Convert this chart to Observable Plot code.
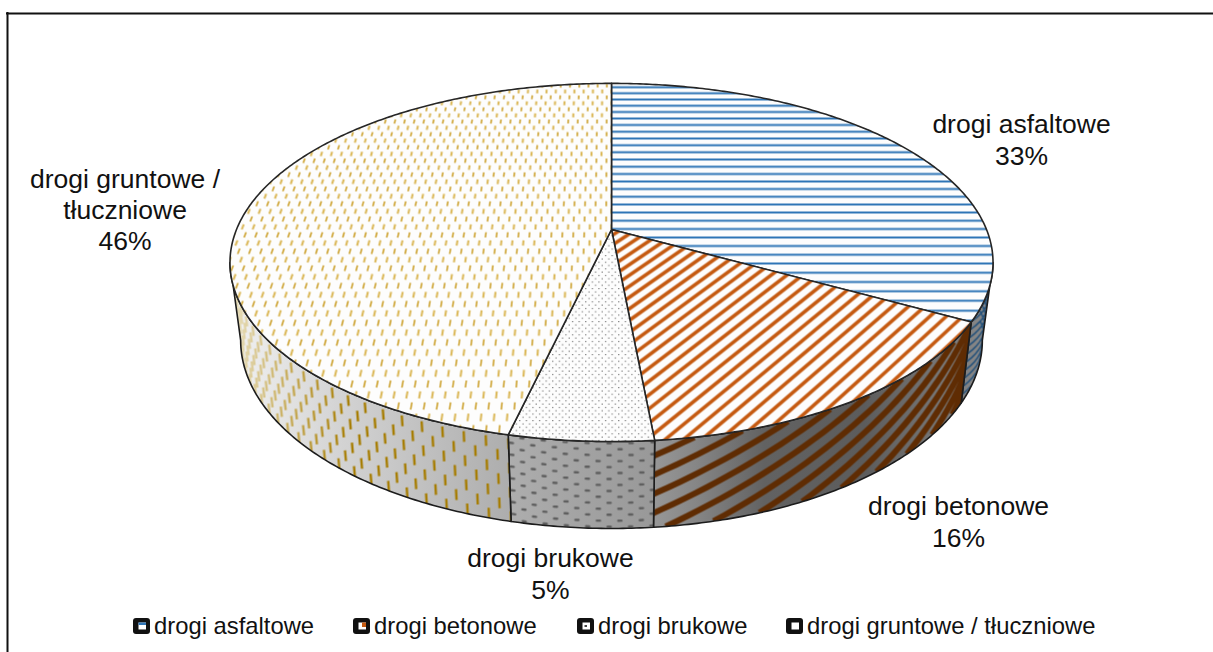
<!DOCTYPE html>
<html>
<head>
<meta charset="utf-8">
<script src="https://cdn.jsdelivr.net/npm/d3@7"></script>
<script src="https://cdn.jsdelivr.net/npm/@observablehq/plot@0.6"></script>
<style>html,body{margin:0;padding:0;background:#fff}svg{display:block}</style>
</head>
<body>
<div id="chart"></div>
<script>
// Data
const categories = ["drogi asfaltowe", "drogi betonowe", "drogi brukowe", "drogi gruntowe / tłuczniowe"];
const shares = [33.1, 15.4, 5.13, 46.37];          // slice sizes
const percentLabels = ["33%", "16%", "5%", "46%"];  // printed labels
const sliceLabels = ["drogi asfaltowe", "drogi betonowe", "drogi brukowe", "drogi gruntowe /\ntłuczniowe"];
const hatchColors = ["#2e75b6", "#c55a11", "#8a8a8a", "#c4920c"];

// Layout
const W = 1213, H = 652;
const hub = {x: 611, y: 229}, A = 375, B = 173, K = 0.184;
const ell = {cy: 262}, wall = {sx: 0.972, sy: 1.05, cy: 340};
const labelAnchors = [[1021, 138.5], [958, 520.5], [550, 572.5], [124.5, 208.5]];
const legendKeysX = [133, 353, 577, 786];
const legendY = 626;

const top3 = t => {
  const d = 1 + K * Math.cos(t);
  return [hub.x + A * Math.sin(t) / d, hub.y - B * Math.cos(t) / d];
};
const bot3 = t => {
  const [x, y] = top3(t);
  return [hub.x + wall.sx * (x - hub.x), wall.cy + wall.sy * (y - ell.cy)];
};
const onWall = (t, h) => {
  const a = top3(t), b = bot3(t);
  return [a[0] + (b[0] - a[0]) * h, a[1] + (b[1] - a[1]) * h];
};
const plane = (u, v) => {
  const d = 1 + K * v;
  return [hub.x + A * u / d, hub.y - B * v / d];
};

const TAU = 2 * Math.PI;
const tangent = Math.acos(-K);   // where the rim turns out of sight
const cum = d3.cumsum(shares);
const total = cum[cum.length - 1];
const spans = shares.map((s, i) => [(i ? cum[i - 1] : 0) / total * TAU, cum[i] / total * TAU]);
const arc = (f, a, b) => {
  const n = Math.max(2, Math.ceil((b - a) / 0.01));
  return d3.range(n + 1).map(i => f(a + (b - a) * i / n));
};
const topPoly = ([a, b]) => [[hub.x, hub.y], ...arc(top3, a, b)];
const wallPoly = ([a, b]) => {
  const lo = Math.max(a, tangent), hi = Math.min(b, TAU - tangent);
  return [...arc(top3, lo, hi), ...arc(bot3, lo, hi).reverse()];
};

// Hatch path builders
const seg = (p, q) => `M${p[0].toFixed(2)},${p[1].toFixed(2)}L${q[0].toFixed(2)},${q[1].toFixed(2)}`;
const topBlue = d3.range(-22, 21).map(i => seg(plane(-1.1, i * 0.0483 + 0.003), plane(1.1, i * 0.0483 + 0.003))).join("");
const topOrange = d3.range(0, 60).map(i => {
  const t = -i * 0.056 + 0.02;
  return seg(plane(-0.2, 1.4 * -0.2 + t), plane(1.2, 1.4 * 1.2 + t));
}).join("");
const dash = (odd) => {
  let s = "";
  for (let i = -80; i <= 80; i++) {
    if ((Math.abs(i) % 2 === 1) !== odd) continue;
    for (let j = -12; j <= 12; j++) {
      const v = j * 0.092 + (odd ? 0.046 : 0);
      s += seg(plane(i * 0.0145, v), plane(i * 0.0145, v + 0.03));
    }
  }
  return s;
};
const wallLines = (span, step, kk, from, to) => d3.range(from, to).map(i => {
  const t0 = span[0] + i * step;
  const pts = d3.range(21).map(n => onWall(t0 + n / 20 / kk, n / 20));
  return "M" + pts.map(p => p[0].toFixed(2) + "," + p[1].toFixed(2)).join("L");
}).join("");
const wallGrid = (span, dt, dh, len) => {
  let s = "", c = 0;
  for (let t = span[0]; t < span[1]; t += dt, c++) {
    for (let h = (c % 2 ? dh / 2 : 0) + dh * 0.15; h < 1; h += dh) {
      s += len.t ? seg(onWall(t, h), onWall(t + len.t, h)) : seg(onWall(t, h), onWall(t, h + len.h));
    }
  }
  return s;
};

function tile(defs, id, paths) {
  const p = defs.append("pattern").attr("id", id).attr("patternUnits", "userSpaceOnUse")
    .attr("x", 0).attr("y", 0).attr("width", W).attr("height", H);
  paths.forEach(o => p.append("path").attr("d", o.d).attr("fill", "none")
    .attr("stroke", o.c).attr("stroke-width", o.w).attr("stroke-linecap", o.cap || "butt"));
}

function hGradient(defs, id, x1, x2, stops) {
  const g = defs.append("linearGradient").attr("id", id).attr("gradientUnits", "userSpaceOnUse")
    .attr("x1", x1).attr("x2", x2).attr("y1", 0).attr("y2", 0);
  stops.forEach(([o, c]) => g.append("stop").attr("offset", o).attr("stop-color", c));
}

function defsMark() {
  const defs = d3.create("svg:defs");
  hGradient(defs, "wallShade", 230, 993, [[0, "#f2f2f2"], [0.14, "#d4d4d4"], [0.36, "#aeaeae"], [0.55, "#999"],
    [0.61, "#868686"], [0.70, "#626262"], [0.83, "#5c5c5c"], [0.92, "#747474"], [1, "#8c8c8c"]]);
  hGradient(defs, "dashFade", 235, 350, [[0, "#e6dcb8"], [0.45, "#c8ad5c"], [1, "#a67c00"]]);

  tile(defs, "t0", [{d: topBlue, c: hatchColors[0], w: 2}]);
  tile(defs, "t1", [{d: topOrange, c: hatchColors[1], w: 3.6}]);
  tile(defs, "t3", [{d: dash(false), c: "#dab654", w: 2}, {d: dash(true), c: hatchColors[3], w: 1.4}]);
  const dots = defs.append("pattern").attr("id", "t2").attr("patternUnits", "userSpaceOnUse")
    .attr("width", 6.6).attr("height", 6.6);
  dots.append("rect").attr("x", 0.5).attr("y", 0.5).attr("width", 1.3).attr("height", 1.1).attr("fill", "#7a7a7a");
  dots.append("rect").attr("x", 3.8).attr("y", 3.8).attr("width", 1.3).attr("height", 1.1).attr("fill", "#7a7a7a");

  tile(defs, "w0", [{d: wallLines(spans[0], 0.083, -1.2, 18, 42), c: "#1f4e79", w: 1.5}]);
  tile(defs, "w1", [{d: wallLines(spans[1], 0.11, 2, -8, 12), c: "#5f2c03", w: 6}]);
  tile(defs, "w2", [{d: wallGrid(spans[2], 0.024, 0.137, {t: 0.007}), c: "#5e5e5e", w: 2.4, cap: "round"}]);
  tile(defs, "w3", [{d: wallGrid(spans[3], 0.026, 0.28, {h: 0.125}), c: "url(#dashFade)", w: 2.4}]);
  return defs.node();
}

const legendData = categories.map((name, i) => ({name, key: legendKeysX[i], color: hatchColors[i]}));
const sliceText = categories.map((_, i) => ({
  text: sliceLabels[i] + "\n" + percentLabels[i], x: labelAnchors[i][0], y: labelAnchors[i][1]
}));
const shape = (pts, opts) => Plot.line(pts, {x: d => d[0], y: d => d[1], curve: "linear-closed", ...opts});

const chart = Plot.plot({
  width: W, height: H, margin: 0,
  x: {domain: [0, W], range: [0, W], axis: null},
  y: {domain: [0, H], range: [0, H], axis: null},
  style: {background: "#fff", fontFamily: "'Liberation Sans', Arial, sans-serif"},
  marks: [
    defsMark,
    // walls
    ...spans.flatMap((s, i) => [
      shape(wallPoly(s), {fill: "url(#wallShade)", stroke: "none"}),
      shape(wallPoly(s), {fill: `url(#w${i})`, stroke: "#1c1c1c", strokeWidth: 1.6})
    ]),
    // tops
    ...spans.flatMap((s, i) => [
      shape(topPoly(s), {fill: "#fdfdfd", stroke: "none"}),
      shape(topPoly(s), {fill: `url(#t${i})`, stroke: "#262626", strokeWidth: 1.6, strokeLinejoin: "round"})
    ]),
    // slice labels
    Plot.text(sliceText, {x: "x", y: "y", text: "text", fontSize: 26.5, lineHeight: 1.175, fill: "#111", lineAnchor: "middle"}),
    // legend
    Plot.rect(legendData, {x1: d => d.key, x2: d => d.key + 17, y1: legendY - 8, y2: legendY + 8, fill: "#111", rx: 3}),
    Plot.rect(legendData, {x1: d => d.key + 5.5, x2: d => d.key + 13, y1: legendY - 3.5, y2: legendY + 3.5, fill: "#fff"}),
    Plot.rect(legendData.slice(0, 1), {x1: d => d.key + 5.5, x2: d => d.key + 13, y1: legendY - 3.5, y2: legendY - 1, fill: d => d.color}),
    Plot.rect(legendData.slice(1, 2), {x1: d => d.key + 9, x2: d => d.key + 13, y1: legendY - 3.5, y2: legendY + 1, fill: d => d.color}),
    Plot.rect(legendData.slice(2, 3), {x1: d => d.key + 7.5, x2: d => d.key + 10, y1: legendY - 1, y2: legendY + 1, fill: "#444"}),
    Plot.text(legendData, {x: d => d.key + 20.5, y: legendY, text: "name", textAnchor: "start", fontSize: 23.8, fill: "#111", lineAnchor: "middle"}),
    // frame
    Plot.ruleY([13], {x1: 6, x2: W, stroke: "#111", strokeWidth: 2}),
    Plot.ruleX([7], {y1: 12, y2: H, stroke: "#111", strokeWidth: 2})
  ]
});
document.getElementById("chart").append(chart);
</script>
</body>
</html>
